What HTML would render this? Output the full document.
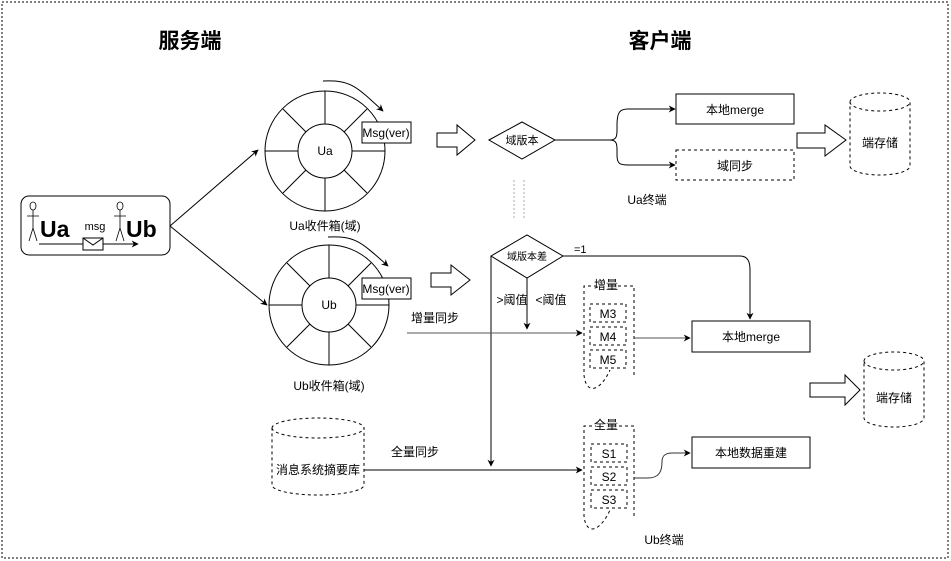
<!DOCTYPE html>
<html><head><meta charset="utf-8"><style>
html,body{margin:0;padding:0;background:#fff}
svg{display:block}
text{font-family:"Liberation Sans","Noto Sans CJK SC",sans-serif;fill:#000}
</style></head><body>
<svg width="951" height="561" viewBox="0 0 951 561" xmlns="http://www.w3.org/2000/svg">
<defs>
<marker id="ah" viewBox="0 0 10 10" refX="9" refY="5" markerWidth="7" markerHeight="7" orient="auto" markerUnits="userSpaceOnUse"><path d="M0,0 L10,5 L0,10 L3,5 z" fill="#000"/></marker>
</defs>
<rect x="2" y="2" width="946" height="556" fill="none" stroke="#000" stroke-dasharray="2,2"/>
<text x="190" y="48" font-size="21" font-weight="bold" text-anchor="middle">服务端</text>
<text x="660" y="48" font-size="21" font-weight="bold" text-anchor="middle">客户端</text>

<!-- Ua Ub box -->
<rect x="21" y="196" width="149" height="59" rx="8" fill="none" stroke="#000"/>
<g fill="none" stroke="#000" stroke-width="0.8">
<ellipse cx="33" cy="206" rx="3" ry="4"/><path d="M33,210 V228 M27,216 H39 M33,228 L29,241 M33,228 L37,241"/>
<ellipse cx="120" cy="206" rx="3" ry="4"/><path d="M120,210 V228 M114,216 H126 M120,228 L116,241 M120,228 L124,241"/>
</g>
<text x="40" y="237" font-size="23" font-weight="bold">Ua</text>
<text x="126" y="237" font-size="23" font-weight="bold">Ub</text>
<text x="95" y="230" font-size="11" text-anchor="middle">msg</text>
<path d="M39,244 H138" stroke="#000" marker-end="url(#ah)"/>
<rect x="83" y="238" width="20" height="12" fill="#fff" stroke="#000"/>
<path d="M83,238 L93,245 L103,238" fill="none" stroke="#000"/>
<path d="M170,226 L258,150" stroke="#000" marker-end="url(#ah)"/>
<path d="M170,226 L267,305" stroke="#000" marker-end="url(#ah)"/>

<!-- Ua wheel -->
<g stroke="#000" fill="none">
<circle cx="325" cy="151" r="60"/><circle cx="325" cy="151" r="27"/>
<path d="M265,151 H298 M352,151 H385 M325,91 V124 M325,178 V211 M283,109 L306,132 M344,170 L367,193 M367,109 L344,132 M306,170 L283,193"/>
<path d="M323,81 C350,80 355,85 383,111" marker-end="url(#ah)"/>
<circle cx="329" cy="305" r="60"/><circle cx="329" cy="305" r="27"/>
<path d="M269,305 H302 M356,305 H389 M329,245 V278 M329,332 V365 M287,263 L310,286 M348,324 L371,347 M371,263 L348,286 M310,324 L287,347"/>
<path d="M328,237 C355,236 360,241 388,266" marker-end="url(#ah)"/>
</g>
<rect x="362" y="122" width="49" height="21" fill="#fff" stroke="#000"/>
<text x="386" y="137" font-size="12" text-anchor="middle">Msg(ver)</text>
<rect x="362" y="278" width="49" height="21" fill="#fff" stroke="#000"/>
<text x="386" y="293" font-size="12" text-anchor="middle">Msg(ver)</text>
<text x="325" y="155" font-size="12" text-anchor="middle">Ua</text>
<text x="329" y="309" font-size="12" text-anchor="middle">Ub</text>
<text x="325" y="230" font-size="12" text-anchor="middle">Ua收件箱(域)</text>
<text x="329" y="390" font-size="12" text-anchor="middle">Ub收件箱(域)</text>

<!-- block arrows -->
<g fill="#fff" stroke="#000">
<path d="M437,133 H457 V125 L475,140 L457,155 V147 H437 Z"/>
<path d="M431,273 H451 V265 L470,280 L451,295 V287 H431 Z"/>
<path d="M797,133 H825 V125 L846,140 L825,156 V148 H797 Z"/>
<path d="M810,383 H845 V375 L860,390 L845,405 V397 H810 Z"/>
</g>

<!-- Ua client -->
<path d="M489,140 L522,122 L555,140 L522,159 Z" fill="#fff" stroke="#000"/>
<text x="522" y="144" font-size="11" text-anchor="middle">域版本</text>
<path d="M555,140 H610 C618,140 617,134 617,125 C617,112 620,109 628,109 H675" fill="none" stroke="#000" marker-end="url(#ah)"/>
<path d="M610,140 C618,140 617,146 617,155 C617,164 620,165 628,165 H675" fill="none" stroke="#000" marker-end="url(#ah)"/>
<rect x="676" y="94" width="118" height="30" fill="#fff" stroke="#000"/>
<text x="735" y="114" font-size="12" text-anchor="middle">本地merge</text>
<rect x="676" y="150" width="118" height="30" fill="#fff" stroke="#000" stroke-dasharray="3,3"/>
<text x="735" y="170" font-size="12" text-anchor="middle">域同步</text>
<text x="647" y="204" font-size="12" text-anchor="middle">Ua终端</text>
<path d="M514,180 V220 M524,180 V220" stroke="#888" stroke-width="0.7" stroke-dasharray="2,2"/>
<g fill="#fff" stroke="#000" stroke-dasharray="3,3">
<path d="M850,102 A30,9 0 0 1 910,102 V166 A30,9 0 0 1 850,166 Z"/>
<path d="M850,102 A30,9 0 0 0 910,102" fill="none"/>
<path d="M864,361 A30,9 0 0 1 924,361 V418 A30,9 0 0 1 864,418 Z"/>
<path d="M864,361 A30,9 0 0 0 924,361" fill="none"/>
<path d="M272,428 A46,10 0 0 1 364,428 V485 A46,10 0 0 1 272,485 Z"/>
<path d="M272,428 A46,10 0 0 0 364,428" fill="none"/>
</g>
<text x="880" y="147" font-size="12" text-anchor="middle">端存储</text>
<text x="894" y="402" font-size="12" text-anchor="middle">端存储</text>
<text x="318" y="474" font-size="12" text-anchor="middle">消息系统摘要库</text>

<!-- Ub client -->
<path d="M491,256 L527,235 L563,256 L527,278 Z" fill="#fff" stroke="#000"/>
<text x="527" y="260" font-size="10" text-anchor="middle">域版本差</text>
<text x="574" y="253" font-size="11">=1</text>
<path d="M563,256 H740 C748,256 750,262 750,270 V319" fill="none" stroke="#000" marker-end="url(#ah)"/>
<path d="M491,256 V466" stroke="#000" marker-end="url(#ah)"/>
<path d="M527,278 V329" stroke="#000" marker-end="url(#ah)"/>
<text x="512" y="304" font-size="12" text-anchor="middle">&gt;阈值</text>
<text x="551" y="304" font-size="12" text-anchor="middle">&lt;阈值</text>
<path d="M407,333 H582" stroke="#555" marker-end="url(#ah)"/>
<text x="435" y="322" font-size="12" text-anchor="middle">增量同步</text>
<path d="M364,470 H582" stroke="#000" marker-end="url(#ah)"/>
<text x="415" y="456" font-size="12" text-anchor="middle">全量同步</text>

<g fill="none" stroke="#000" stroke-dasharray="3,3">
<path d="M634,375 V286 H584 V375 C586,395 600,392 610,370"/>
<rect x="590" y="304" width="36" height="18"/><rect x="590" y="327" width="36" height="18"/><rect x="590" y="350" width="36" height="18"/>
<path d="M634,516 V426 H584 V516 C586,536 600,532 610,510"/>
<rect x="591" y="444" width="36" height="18"/><rect x="591" y="467" width="36" height="18"/><rect x="591" y="490" width="36" height="18"/>
</g>
<rect x="596" y="279" width="22" height="12" fill="#fff"/>
<text x="606" y="289" font-size="12" text-anchor="middle">增量</text>
<rect x="596" y="419" width="22" height="12" fill="#fff"/>
<text x="606" y="429" font-size="12" text-anchor="middle">全量</text>
<text x="608" y="318" font-size="12" text-anchor="middle">M3</text>
<text x="608" y="341" font-size="12" text-anchor="middle">M4</text>
<text x="608" y="364" font-size="12" text-anchor="middle">M5</text>
<text x="609" y="458" font-size="12" text-anchor="middle">S1</text>
<text x="609" y="481" font-size="12" text-anchor="middle">S2</text>
<text x="609" y="504" font-size="12" text-anchor="middle">S3</text>
<path d="M634,338 H690" stroke="#555" marker-end="url(#ah)"/>
<path d="M634,478 H648 C660,478 662,470 662,462 C662,455 666,453 672,453 H690" fill="none" stroke="#333" marker-end="url(#ah)"/>
<rect x="692" y="321" width="118" height="31" fill="#fff" stroke="#000"/>
<text x="751" y="341" font-size="12" text-anchor="middle">本地merge</text>
<rect x="692" y="437" width="118" height="31" fill="#fff" stroke="#000"/>
<text x="751" y="457" font-size="12" text-anchor="middle">本地数据重建</text>
<text x="664" y="544" font-size="12" text-anchor="middle">Ub终端</text>
</svg>
</body></html>
